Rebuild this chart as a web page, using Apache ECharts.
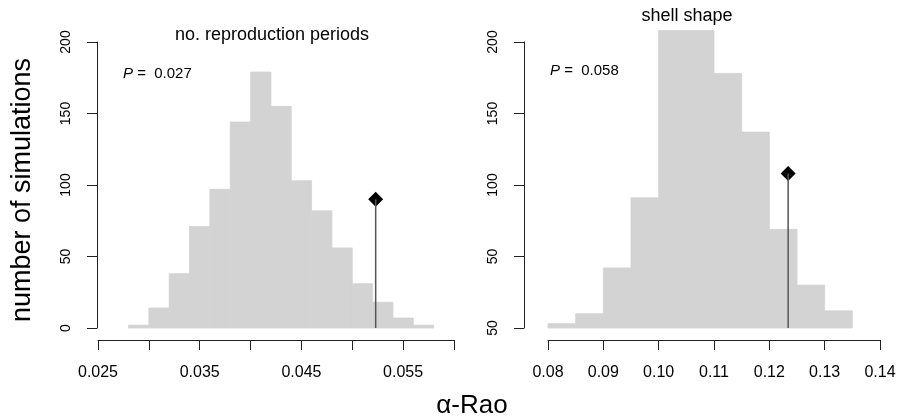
<!DOCTYPE html>
<html>
<head>
<meta charset="utf-8">
<script src="https://cdn.jsdelivr.net/npm/echarts@6/dist/echarts.min.js"></script>
<style>
html,body{margin:0;padding:0;background:#fff}
#main{width:900px;height:420px}
</style>
</head>
<body>
<div id="main"></div>
<script>
// left panel: no. reproduction periods
var leftBinStarts=[0.028,0.030,0.032,0.034,0.036,0.038,0.040,0.042,0.044,0.046,0.048,0.050,0.052,0.054,0.056]
var leftBinEnds=[0.030,0.032,0.034,0.036,0.038,0.040,0.042,0.044,0.046,0.048,0.050,0.052,0.054,0.056,0.058]
var leftCounts=[2,14,38,71,97,144,179,155,103,82,56,31,18,7,2]
var leftObserved=[0.0523,90]
var leftXLabels=['0.025','0.035','0.045','0.055']
var leftYLabels=['0','50','100','150','200']
var leftTitle='no. reproduction periods'
var leftP='0.027'

// right panel: shell shape
var rightBinStarts=[0.080,0.085,0.090,0.095,0.100,0.105,0.110,0.115,0.120,0.125,0.130]
var rightBinEnds=[0.085,0.090,0.095,0.100,0.105,0.110,0.115,0.120,0.125,0.130,0.135]
var rightCounts=[3,10,42,91,208,208,178,137,69,30,12]
var rightObserved=[0.1234,108]
var rightXLabels=['0.08','0.09','0.10','0.11','0.12','0.13','0.14']
var rightYLabels=['50','50','100','150','200']
var rightTitle='shell shape'
var rightP='0.058'

var fontFam='"Liberation Sans", Arial, sans-serif'

function bins(starts,ends,counts){
	var out=[]
	for(var i=0;i<counts.length;i++){
		out.push([starts[i],ends[i],counts[i]])
	}
	return out
}

function renderBin(params,api){
	var a=api.coord([api.value(0),api.value(2)])
	var b=api.coord([api.value(1),0])
	return {
		type:'rect',
		shape:{x:a[0],y:a[1],width:b[0]-a[0],height:b[1]-a[1]},
		style:{fill:'#d3d3d3',stroke:'#d3d3d3',lineWidth:0.8}
	}
}

function xAxisOf(idx,min,max,step,labels,digits){
	return {
		type:'value',gridIndex:idx,min:min,max:max,interval:step,
		offset:12,
		splitLine:{show:false},
		axisLine:{show:true,onZero:false,lineStyle:{color:'#222',width:1}},
		axisTick:{show:true,length:10,lineStyle:{color:'#222',width:1}},
		axisLabel:{
			color:'#000',fontSize:16,fontFamily:fontFam,margin:25,
			showMinLabel:true,showMaxLabel:true,
			formatter:function(v){
				var s=v.toFixed(digits)
				return labels.indexOf(s)>=0?s:''
			}
		}
	}
}

function yAxisOf(idx,labels,off){
	return {
		type:'value',gridIndex:idx,min:0,max:200,interval:50,
		offset:off,
		splitLine:{show:false},
		axisLine:{show:true,lineStyle:{color:'#222',width:1}},
		axisTick:{show:true,length:10,lineStyle:{color:'#222',width:1}},
		axisLabel:{
			color:'#000',fontSize:14,fontFamily:fontFam,rotate:90,margin:24,
			formatter:function(v){return labels[Math.round(v/50)]}
		}
	}
}

function obsSeries(idx,obs){
	return [{
		type:'line',xAxisIndex:idx,yAxisIndex:idx,
		data:[[obs[0],0],[obs[0],obs[1]]],
		symbol:'none',silent:true,
		lineStyle:{color:'#555',width:1.5}
	},{
		type:'scatter',xAxisIndex:idx,yAxisIndex:idx,
		data:[obs],symbol:'diamond',symbolSize:[15,15],
		itemStyle:{color:'#000',opacity:1},silent:true
	}]
}

var mychart=echarts.init(document.getElementById('main'),null,{renderer:'canvas'})
var option={
	animation:false,
	backgroundColor:'#fff',
	grid:[
		{left:98,right:446,top:42,bottom:92},
		{left:548,right:20,top:42,bottom:92}
	],
	xAxis:[
		xAxisOf(0,0.025,0.060,0.005,leftXLabels,3),
		xAxisOf(1,0.08,0.14,0.01,rightXLabels,2)
	],
	yAxis:[
		yAxisOf(0,leftYLabels,1),
		yAxisOf(1,rightYLabels,24)
	],
	series:[{
		type:'custom',xAxisIndex:0,yAxisIndex:0,clip:false,
		renderItem:renderBin,encode:{x:[0,1],y:2},
		data:bins(leftBinStarts,leftBinEnds,leftCounts)
	},{
		type:'custom',xAxisIndex:1,yAxisIndex:1,clip:false,
		renderItem:renderBin,encode:{x:[0,1],y:2},
		data:bins(rightBinStarts,rightBinEnds,rightCounts)
	}].concat(obsSeries(0,leftObserved)).concat(obsSeries(1,rightObserved)),
	graphic:[
		{type:'text',x:272,y:35,style:{text:leftTitle,fill:'#000',font:'18px '+fontFam,textAlign:'center',textVerticalAlign:'middle'}},
		{type:'text',x:687,y:16,style:{text:rightTitle,fill:'#000',font:'18px '+fontFam,textAlign:'center',textVerticalAlign:'middle'}},
		{type:'text',x:123,y:74,style:{
			text:'{i|P} =  '+leftP,fill:'#000',font:'15px '+fontFam,textVerticalAlign:'middle',
			rich:{i:{fontStyle:'italic',fontSize:15,fontFamily:fontFam}}
		}},
		{type:'text',x:550,y:71,style:{
			text:'{i|P} =  '+rightP,fill:'#000',font:'15px '+fontFam,textVerticalAlign:'middle',
			rich:{i:{fontStyle:'italic',fontSize:15,fontFamily:fontFam}}
		}},
		{type:'text',x:472,y:406,style:{text:'α-Rao',fill:'#000',font:'26px '+fontFam,textAlign:'center',textVerticalAlign:'middle'}},
		{type:'text',x:23,y:190,rotation:Math.PI/2,style:{text:'number of simulations',fill:'#000',font:'27px '+fontFam,textAlign:'center',textVerticalAlign:'middle'}}
	]
}
mychart.setOption(option)
</script>
</body>
</html>
